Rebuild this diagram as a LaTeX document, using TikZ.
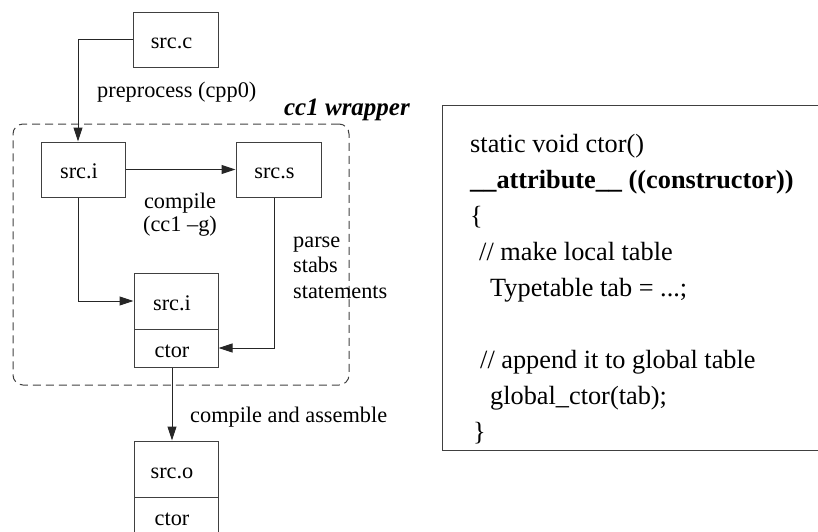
\documentclass[tikz,border=0pt]{standalone}
\usepackage{fontspec}
\setmainfont{Liberation Serif}
\usetikzlibrary{arrows.meta}
\begin{document}
\begin{tikzpicture}[x=1pt,y=-1pt,
  box/.style={draw=black!75, line width=1pt, minimum width=85pt, minimum height=55pt,
    inner sep=0pt, text height=18pt, text depth=0pt,
    font=\fontsize{22.3}{26}\selectfont, execute at begin node=\hspace*{-8pt}},
  lbl/.style={font=\fontsize{22.3}{26}\selectfont, inner sep=0pt},
  arr/.style={-{Triangle[length=14pt,width=9pt]}, line width=1pt, draw=black!85},
  code/.style={font=\fontsize{26.3}{36}\selectfont, inner sep=0pt, anchor=base west}]
\useasboundingbox (0,0) rectangle (818,531);
% wrapper
\node[draw=black!75, line width=1pt, dash pattern=on 8pt off 5pt, rounded corners=10pt,
  minimum width=336pt, minimum height=261pt, inner sep=0pt] (wrapper) at (181,254.5) {};
\node[lbl, anchor=base east, font=\fontsize{25}{28}\selectfont\bfseries\itshape] (wraplbl) at (410,115) {cc1 wrapper};
% boxes
\node[box] (srcc) at (175.5,39.5) {src.c};
\node[box, minimum width=84pt] (srci) at (83,169.5) {src.i};
\node[box] (srcs) at (278.5,169.5) {src.s};
\node[box, minimum width=84pt, minimum height=56pt] (srcib) at (176,301) {src.i};
\node[box, minimum width=84pt, minimum height=38pt] (ctori) at (176,348) {ctor};
\node[box, minimum width=84pt, minimum height=56pt] (srco) at (176,469) {src.o};
\node[box, minimum width=84pt, minimum height=38pt] (ctoro) at (176,516) {ctor};
% labels
\node[lbl, anchor=base west] (pp) at (97,97) {preprocess (cpp0)};
\node[lbl, anchor=base] (cmp1) at (180,208) {compile};
\node[lbl, anchor=base] (cmp2) at (180,231) {(cc1 --g)};
\node[lbl, anchor=base west] (ps1) at (293,247) {parse};
\node[lbl, anchor=base west] (ps2) at (293,272) {stabs};
\node[lbl, anchor=base west] (ps3) at (293,298) {statements};
\node[lbl, anchor=base west] (ca) at (190,422) {compile and assemble};
% connectors
\draw[arr] (srcc.west) -| ([xshift=-5pt]srci.north);
\draw[arr] (srci.east) -- (srcs.west);
\draw[arr] ([xshift=-5pt]srci.south) |- (srcib.west);
\draw[arr] ([xshift=-4.5pt]srcs.south) |- (ctori.east);
\draw[arr] ([xshift=-4pt]ctori.south) -- ([xshift=-4pt]srco.north);
% code box
\node[draw=black!75, line width=1pt, minimum width=420pt, minimum height=345pt,
  inner sep=0pt, anchor=north west] (codebox) at (442,105) {};
\node[code] (c1) at (470,152) {static void ctor()};
\node[code] (c2) at (470,188) {\bfseries \_\_attribute\_\_ ((constructor))};
\node[code] (c3) at (470,224) {\{};
\node[code] (c4) at (479,260) {// make local table};
\node[code] (c5) at (490,296) {Typetable tab = ...;};
\node[code] (c6) at (480,368) {// append it to global table};
\node[code] (c7) at (490,404) {global\_ctor(tab);};
\node[code] (c8) at (473,440) {\}};
\end{tikzpicture}
\end{document}
